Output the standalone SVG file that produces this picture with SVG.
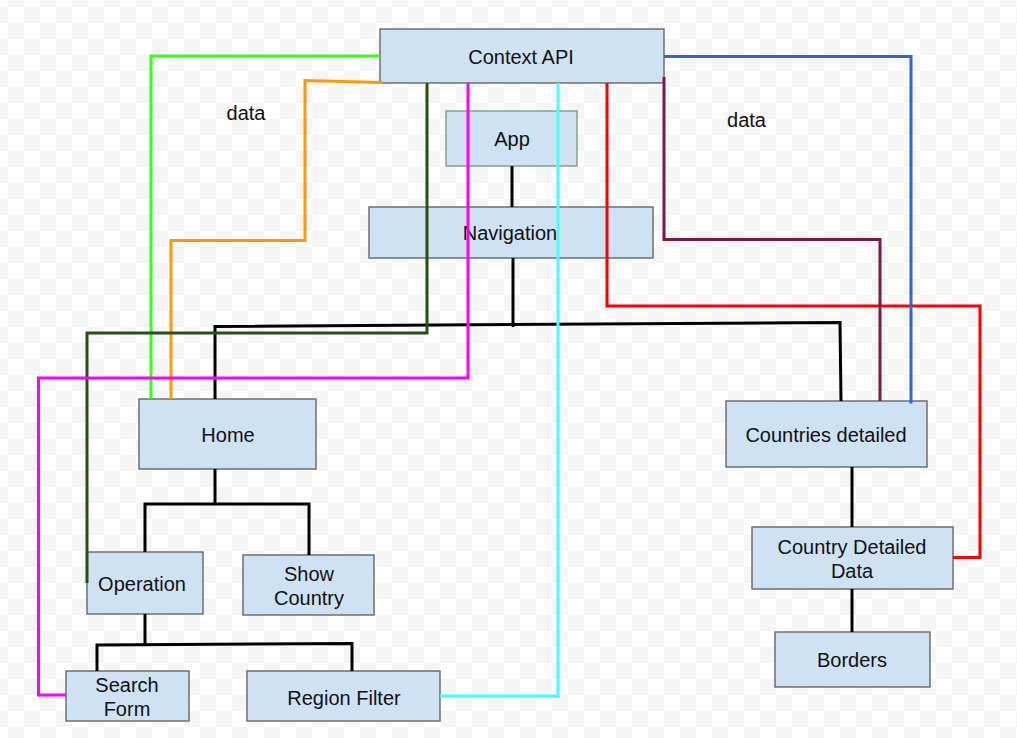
<svg xmlns="http://www.w3.org/2000/svg" width="1017" height="738" viewBox="0 0 1017 738">
<defs>
<pattern id="checker" x="8" y="7" width="32" height="32" patternUnits="userSpaceOnUse">
<rect width="32" height="32" fill="#ffffff"/>
<rect x="16" y="0" width="16" height="16" fill="#f5f5f5"/>
<rect x="0" y="16" width="16" height="16" fill="#f5f5f5"/>
</pattern>
</defs>
<style>
.box{fill:#cfe2f3;stroke:#666666;stroke-width:1.4}
.app{stroke:#7f9f84}
.lbl{font-family:"Liberation Sans",Arial,sans-serif;font-size:20px;fill:#111111;text-anchor:middle}
.ln{fill:none;stroke-width:3;stroke-linejoin:miter;stroke-linecap:butt}
.k{stroke:#000000}
</style>
<rect width="1017" height="738" fill="url(#checker)"/>
<g id="nodes">
<g id="context-api"><rect class="box" x="380" y="29" width="284" height="54"/><text class="lbl" x="521" y="64">Context API</text></g>
<g id="app"><rect class="box app" x="446" y="111" width="131" height="55"/><text class="lbl" x="512" y="146">App</text></g>
<g id="navigation"><rect class="box" x="369" y="207" width="284" height="51"/><text class="lbl" x="510" y="240">Navigation</text></g>
<g id="home"><rect class="box" x="139" y="399" width="177" height="70"/><text class="lbl" x="228" y="442">Home</text></g>
<g id="operation"><rect class="box" x="87" y="552" width="116" height="62"/><text class="lbl" x="142" y="591">Operation</text></g>
<g id="show-country"><rect class="box" x="243" y="555" width="131" height="60"/><text class="lbl" x="309" y="581">Show</text><text class="lbl" x="309" y="605">Country</text></g>
<g id="search-form"><rect class="box" x="66" y="671" width="123" height="50"/><text class="lbl" x="127" y="692">Search</text><text class="lbl" x="127" y="716">Form</text></g>
<g id="region-filter"><rect class="box" x="247" y="671" width="193" height="50"/><text class="lbl" x="344" y="705">Region Filter</text></g>
<g id="countries-detailed"><rect class="box" x="726" y="401" width="201" height="66"/><text class="lbl" x="826" y="442">Countries detailed</text></g>
<g id="country-detailed-data"><rect class="box" x="752" y="527" width="201" height="62"/><text class="lbl" x="852" y="554">Country Detailed</text><text class="lbl" x="852" y="578">Data</text></g>
<g id="borders"><rect class="box" x="775" y="632" width="155" height="55"/><text class="lbl" x="852" y="667">Borders</text></g>
</g>
<g id="connectors">
<path class="ln k" d="M512 166 V207"/>
<path class="ln k" d="M513 258 V327"/>
<path class="ln k" d="M215 399 V326.5 L840 322.5 L841 401"/>
<path class="ln k" d="M215 469 V504"/>
<path class="ln k" d="M145 552 V504 H309 V555"/>
<path class="ln k" d="M145 614 V644"/>
<path class="ln k" d="M97 671 V645 L352 643.5 V671"/>
<path class="ln k" d="M852 467 V527"/>
<path class="ln k" d="M852 589 V632"/>
<path class="ln" stroke="#33ff1a" d="M380 56 H151 V399"/>
<path class="ln" stroke="#ff9900" d="M383 82.5 L305 80.5 V240.5 H171 V399"/>
<path class="ln" stroke="#274e13" d="M427 83 V333 H87 V583"/>
<path class="ln" stroke="#ff00ff" d="M468 83 V378 H38.5 V695 H66"/>
<path class="ln" stroke="#44ffff" d="M558 83 V696 H440"/>
<path class="ln" stroke="#ff0000" d="M607 83 V306 H980 V557.5 H953"/>
<path class="ln" stroke="#741b47" d="M664 77 V239.5 H880 V401"/>
<path class="ln" stroke="#3366cc" d="M664 56.5 H911 V403.5"/>
</g>
<g id="labels">
<text class="lbl" x="246" y="120">data</text>
<text class="lbl" x="746.5" y="127">data</text>
</g>
</svg>
